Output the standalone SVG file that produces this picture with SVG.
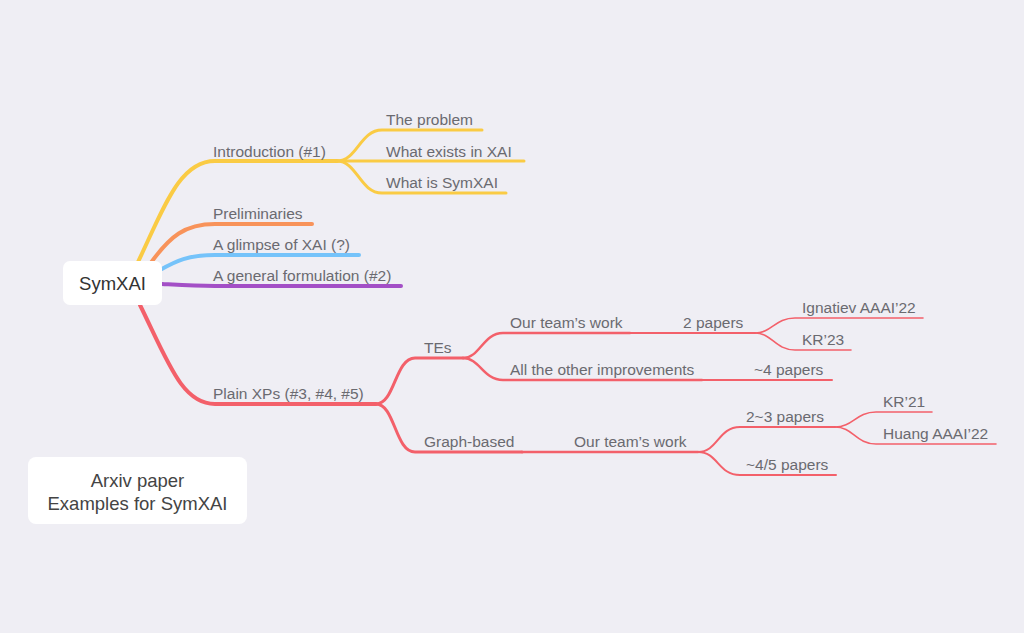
<svg xmlns="http://www.w3.org/2000/svg" width="1024" height="633" viewBox="0 0 1024 633">
<style>
text{font-family:"Liberation Sans",Arial,sans-serif;}
.lbl{font-size:15.5px;fill:#6a6a70;}
.root{font-size:18.5px;fill:#333;}
.note{font-size:18.5px;fill:#444;}
.box{fill:#ffffff;}
path{fill:none;stroke-linecap:round;stroke-linejoin:round;}
.y{stroke:#FACB44;}
.o{stroke:#F8935A;}
.b{stroke:#75C3FA;}
.p{stroke:#A34FC6;}
.r{stroke:#F3606A;}
.w1{stroke-width:4;}
.w2{stroke-width:3;}
.w3{stroke-width:2.5;}
.w4{stroke-width:2;}
.w5{stroke-width:1.6;}
</style>
<rect width="1024" height="633" fill="#EFEEF4"/>
<g id="connectors">
  <path class="y w1" d="M138,262 C165,205 180,161 215,161 L337,161"/>
  <path class="o w1" d="M150,264 C170,236 185,224 215,224 L312,224"/>
  <path class="b w1" d="M160,270 C176,261 188,255 215,255 L359,255"/>
  <path class="p w1" d="M162,284 C180,285 195,286 215,286 L401,286"/>
  <path class="r w1" d="M140,305 C168,362 182,404 215,404 L376,404"/>
  <path class="y w2" d="M337,161 C357,161 360,130 382,130 L482,130"/>
  <path class="y w2" d="M337,161 L524,161"/>
  <path class="y w2" d="M337,161 C357,161 360,193 382,193 L506,193"/>
  <path class="r w2" d="M376,404 C395,404 395,358 415,358 L463,358"/>
  <path class="r w2" d="M376,404 C395,404 395,452 415,452 L522,452"/>
  <path class="r w3" d="M463,358 C480,358 483,333 503,333 L630,333"/>
  <path class="r w3" d="M463,358 C480,358 483,380 503,380 L702,380"/>
  <path class="r w3" d="M522,452 L698,452"/>
  <path class="r w4" d="M630,333 L755,333"/>
  <path class="r w4" d="M702,380 L832,380"/>
  <path class="r w4" d="M698,452 C718,452 718,427 740,427 L835,427"/>
  <path class="r w4" d="M698,452 C718,452 718,475 740,475 L836,475"/>
  <path class="r w5" d="M755,333 C772,333 775,318 795,318 L923,318"/>
  <path class="r w5" d="M755,333 C772,333 775,350 795,350 L851,350"/>
  <path class="r w5" d="M835,427 C853,427 856,412 876,412 L932,412"/>
  <path class="r w5" d="M835,427 C853,427 856,444 876,444 L996,444"/>
</g>
<g id="root"><rect class="box" x="63" y="261" width="99" height="44" rx="7"/><text class="root" x="112.5" y="290" text-anchor="middle">SymXAI</text></g>
<g id="intro"><text class="lbl" x="213" y="157">Introduction (#1)</text></g>
<g id="problem"><text class="lbl" x="386" y="125">The problem</text></g>
<g id="exists"><text class="lbl" x="386" y="157">What exists in XAI</text></g>
<g id="whatis"><text class="lbl" x="386" y="188">What is SymXAI</text></g>
<g id="prelim"><text class="lbl" x="213" y="219">Preliminaries</text></g>
<g id="glimpse"><text class="lbl" x="213" y="250">A glimpse of XAI (?)</text></g>
<g id="general"><text class="lbl" x="213" y="281">A general formulation (#2)</text></g>
<g id="plain"><text class="lbl" x="213" y="399">Plain XPs (#3, #4, #5)</text></g>
<g id="tes"><text class="lbl" x="424" y="353">TEs</text></g>
<g id="graph"><text class="lbl" x="424" y="447">Graph-based</text></g>
<g id="team1"><text class="lbl" x="510" y="328">Our team’s work</text></g>
<g id="two"><text class="lbl" x="683" y="328">2 papers</text></g>
<g id="ignatiev"><text class="lbl" x="802" y="313">Ignatiev AAAI’22</text></g>
<g id="kr23"><text class="lbl" x="802" y="345">KR’23</text></g>
<g id="other"><text class="lbl" x="510" y="375">All the other improvements</text></g>
<g id="four"><text class="lbl" x="754" y="375">~4 papers</text></g>
<g id="team2"><text class="lbl" x="574" y="447">Our team’s work</text></g>
<g id="twothree"><text class="lbl" x="746" y="422">2~3 papers</text></g>
<g id="kr21"><text class="lbl" x="883" y="407">KR’21</text></g>
<g id="huang"><text class="lbl" x="883" y="439">Huang AAAI’22</text></g>
<g id="fourfive"><text class="lbl" x="746" y="470">~4/5 papers</text></g>
<g id="note"><rect class="box" x="28" y="457" width="219" height="67" rx="8"/><text class="note" x="137.5" y="487" text-anchor="middle">Arxiv paper</text><text class="note" x="137.5" y="510" text-anchor="middle">Examples for SymXAI</text></g>
</svg>
